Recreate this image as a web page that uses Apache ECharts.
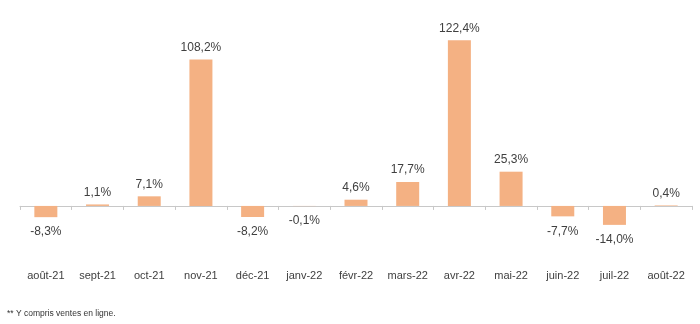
<!DOCTYPE html>
<html>
<head>
<meta charset="utf-8">
<script src="https://cdn.jsdelivr.net/npm/echarts@6/dist/echarts.min.js"></script>
<style>
  html, body { margin: 0; padding: 0; background: #fff; }
  #chart { width: 700px; height: 324px; }
</style>
</head>
<body>
<div id="chart"></div>
<script>
// Monthly change, in percent
const categories = ['août-21', 'sept-21', 'oct-21', 'nov-21', 'déc-21', 'janv-22', 'févr-22', 'mars-22', 'avr-22', 'mai-22', 'juin-22', 'juil-22', 'août-22'];
const values = [-8.3, 1.1, 7.1, 108.2, -8.2, -0.1, 4.6, 17.7, 122.4, 25.3, -7.7, -14.0, 0.4];
const footnote = '** Y compris ventes en ligne.';

const textColor = '#404040';
const fontFamily = '"Liberation Sans", Arial, sans-serif';

const fmt = v => v.toFixed(1).replace('.', ',') + '%';

const barData = values.map(v => ({
  value: v,
  label: v < 0 ? { position: 'bottom', distance: 9 } : { position: 'top', distance: 6 }
}));

const chart = echarts.init(document.getElementById('chart'), null, { renderer: 'canvas' });
chart.setOption({
  animation: false,
  grid: { left: 20, width: 672, top: 30, height: 203 },
  xAxis: {
    type: 'category',
    data: categories,
    axisLine: { onZero: true, lineStyle: { color: '#c8c8c8', width: 1 } },
    axisTick: { show: true, length: 4, lineStyle: { color: '#c8c8c8' } },
    axisLabel: { margin: 37, color: textColor, fontSize: 11, fontFamily: fontFamily, interval: 0 }
  },
  yAxis: {
    type: 'value',
    min: -20,
    max: 130,
    show: false,
    splitLine: { show: false }
  },
  series: [{
    type: 'bar',
    data: barData,
    barWidth: 23,
    itemStyle: { color: '#F4B183' },
    label: {
      show: true,
      color: textColor,
      fontSize: 12,
      fontFamily: fontFamily,
      formatter: p => fmt(p.value)
    }
  }],
  graphic: [{
    type: 'text',
    left: 7,
    top: 309,
    style: { text: footnote, fill: '#333', font: '8.5px "Liberation Sans", Arial, sans-serif' }
  }]
});
</script>
</body>
</html>
